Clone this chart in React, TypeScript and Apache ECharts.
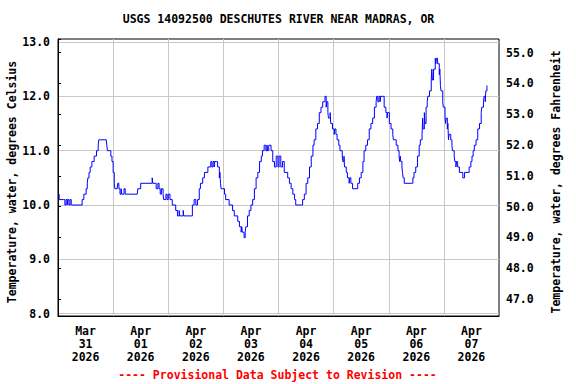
import React, { useEffect, useRef } from "react";
import * as echarts from "echarts";

const TITLE = "USGS 14092500 DESCHUTES RIVER NEAR MADRAS, OR";
const LEFT_NAME = "Temperature, water, degrees Celsius";
const RIGHT_NAME = "Temperature, water, degrees Fahrenheit";
const FOOTER = "---- Provisional Data Subject to Revision ----";

// x axis: hours since 2026-03-31 00:00
const dayLabels = [
  "Mar\n31\n2026",
  "Apr\n01\n2026",
  "Apr\n02\n2026",
  "Apr\n03\n2026",
  "Apr\n04\n2026",
  "Apr\n05\n2026",
  "Apr\n06\n2026",
  "Apr\n07\n2026",
];
const hourRange = [0, 192];
const celsiusRange = [7.958, 13.055];
const fahrenheitRange = [46.45, 55.44];

// [hour since Mar 31 00:00, temperature °C]
const readingsMar31 = [
  [0, 10.2], [0.5, 10.1], [2.5, 10.1], [3, 10.0], [3.5, 10.1], [4, 10.0], [4.25, 10.1], [4.75, 10.0],
  [5.25, 10.1], [5.75, 10.0], [10, 10.0], [10.5, 10.1], [11.25, 10.2], [12.25, 10.3], [12.75, 10.4],
  [13, 10.5], [13.5, 10.6], [14, 10.7], [14.75, 10.8], [15.75, 10.9], [16.75, 11.0], [17.5, 11.1],
  [17.75, 11.2], [21, 11.2], [21.25, 11.1], [21.5, 11.0], [22.5, 11.0], [23, 10.9], [23.5, 10.8],
];
const readingsApr01 = [
  [24, 10.6], [24.5, 10.4], [24.75, 10.3], [25.75, 10.3], [26, 10.4], [26.5, 10.3], [27, 10.2],
  [27.5, 10.3], [27.75, 10.2], [28.75, 10.3], [29.25, 10.2], [34.5, 10.2], [34.75, 10.3], [36, 10.4],
  [40.5, 10.4], [41, 10.5], [41.25, 10.4], [42.25, 10.4], [42.75, 10.3], [43.5, 10.4], [44, 10.3],
  [44.5, 10.2], [45, 10.3], [45.75, 10.2], [46, 10.1], [47, 10.2], [47.5, 10.1],
];
const readingsApr02 = [
  [48, 10.2], [48.75, 10.1], [49.75, 10.0], [51.25, 9.9], [52, 9.8], [52.75, 9.9], [53, 9.8],
  [54.5, 9.9], [54.75, 9.8], [58, 9.8], [58.5, 10.0], [59.25, 10.1], [60, 10.0], [60.75, 10.1],
  [61.5, 10.3], [62, 10.4], [63, 10.5], [63.75, 10.6], [65.25, 10.7], [66.5, 10.8], [67, 10.7],
  [67.5, 10.8], [68, 10.7], [68.25, 10.8], [69, 10.8], [69.5, 10.7], [70.25, 10.5], [70.5, 10.6],
  [70.75, 10.4], [71, 10.3],
];
const readingsApr03 = [
  [72.5, 10.2], [73, 10.1], [74.5, 10.0], [76, 9.9], [76.75, 9.8], [78.25, 9.7], [79, 9.6],
  [79.75, 9.5], [80, 9.6], [80.25, 9.5], [81, 9.4], [81.5, 9.5], [81.75, 9.6], [82.5, 9.8],
  [83.25, 9.9], [84, 10.0], [84.75, 10.1], [85.5, 10.3], [86.25, 10.5], [87, 10.6], [87.75, 10.8],
  [88.5, 10.9], [89, 11.0], [89.75, 11.1], [90.5, 11.0], [91, 11.1], [91.25, 11.0], [91.75, 11.1],
  [92.75, 11.0], [93.5, 10.8], [94.25, 10.7], [95, 10.9], [95.75, 10.7],
];
const readingsApr04 = [
  [96.25, 10.9], [97, 10.7], [97.75, 10.8], [98.5, 10.6], [100, 10.5], [100.75, 10.4], [101.5, 10.3],
  [102.25, 10.2], [103, 10.1], [103.5, 10.0], [106, 10.0], [106.5, 10.1], [107.25, 10.2], [108, 10.4],
  [108.75, 10.5], [109.5, 10.7], [110.25, 10.9], [111, 11.1], [111.5, 11.2], [112.25, 11.4],
  [113, 11.5], [113.75, 11.7], [114.5, 11.8], [115.25, 11.9], [116.25, 12.0], [116.75, 11.8],
  [117, 11.9], [117.5, 11.7], [117.75, 11.6], [118.5, 11.7], [118.75, 11.5], [119.5, 11.4],
];
const readingsApr05 = [
  [120.25, 11.3], [120.5, 11.4], [121, 11.3], [121.5, 11.2], [122.25, 11.1], [122.75, 11.0],
  [123.75, 10.9], [124, 10.8], [124.5, 10.9], [124.75, 10.7], [125.5, 10.6], [126, 10.5],
  [126.75, 10.4], [127, 10.5], [127.5, 10.4], [128.25, 10.3], [129.75, 10.3], [130.5, 10.4],
  [131.25, 10.5], [132, 10.6], [132.75, 10.8], [133.25, 11.0], [134, 11.1], [134.75, 11.2],
  [135.5, 11.4], [136.25, 11.5], [137, 11.6], [137.75, 11.8], [138.5, 11.9], [138.75, 12.0],
  [139.25, 11.9], [139.75, 12.0], [140.25, 11.9], [140.5, 12.0], [141.25, 12.0], [142, 11.8],
  [142.75, 11.7], [143.25, 11.6], [143.5, 11.7],
];
const readingsApr06 = [
  [144.25, 11.5], [145, 11.4], [145.75, 11.3], [146, 11.2], [147.25, 11.1], [148, 11.0], [148.5, 10.9],
  [148.75, 10.8], [149, 10.9], [149.25, 10.8], [149.75, 10.7], [150, 10.6], [150.25, 10.5],
  [150.75, 10.4], [154, 10.4], [154.5, 10.5], [155, 10.6], [155.75, 10.7], [156.5, 10.9],
  [157.25, 11.1], [157.75, 11.2], [158.5, 11.3], [158.75, 11.6], [159, 11.4], [159.5, 11.7],
  [159.75, 11.5], [160.25, 11.8], [160.75, 11.9], [161, 12.0], [161.75, 12.1], [162.5, 12.3],
  [162.75, 12.5], [163, 12.3], [163.5, 12.5], [164.25, 12.7], [164.5, 12.6], [164.75, 12.7],
  [165.25, 12.6], [166, 12.4], [166.25, 12.5], [166.5, 12.2], [166.75, 12.1], [167.5, 11.9],
  [167.75, 11.8],
];
const readingsApr07 = [
  [168.5, 11.6], [168.75, 11.5], [169, 11.6], [169.5, 11.4], [169.75, 11.5], [170, 11.2],
  [170.25, 11.3], [171, 11.2], [171.5, 11.1], [171.75, 11.0], [172.5, 10.9], [172.75, 10.8],
  [173.25, 10.7], [173.5, 10.8], [174, 10.7], [174.75, 10.6], [176.25, 10.5], [177, 10.6],
  [179, 10.7], [179.75, 10.8], [180.25, 10.9], [180.75, 11.0], [181.25, 11.1], [182, 11.2],
  [182.75, 11.4], [183.5, 11.5], [184.25, 11.7], [184.5, 11.8], [185.25, 11.9], [185.5, 12.0],
  [186, 11.9], [186.25, 12.1], [186.75, 12.2],
];

const FONT = "'DejaVu Sans Mono', monospace";
const FS = 11.5;

const isWhole = (v: number) => Math.abs(v - Math.round(v)) < 1e-6;

export default function App() {
  const ref = useRef<HTMLDivElement>(null);

  useEffect(() => {
    if (!ref.current) return;
    const chart = echarts.init(ref.current, undefined, { renderer: "svg" });
    const data = [
      ...readingsMar31,
      ...readingsApr01,
      ...readingsApr02,
      ...readingsApr03,
      ...readingsApr04,
      ...readingsApr05,
      ...readingsApr06,
      ...readingsApr07,
    ];
    const textStyle = (size = FS) => ({
      fontFamily: FONT,
      fontWeight: "bold" as const,
      fontSize: size,
      color: "#000",
    });
    const textFont = `bold ${FS}px ${FONT}`;

    chart.setOption({
      animation: false,
      backgroundColor: "#fff",
      grid: {
        left: 58,
        right: 77,
        top: 39,
        bottom: 68,
        show: true,
        borderColor: "#000",
        borderWidth: 1,
        backgroundColor: "transparent",
      },
      xAxis: [
        {
          type: "value",
          min: hourRange[0],
          max: hourRange[1],
          interval: 24,
          position: "bottom",
          axisLine: { show: true, lineStyle: { color: "#000", width: 1 } },
          axisTick: { show: false },
          axisLabel: { show: false },
          splitLine: {
            show: true,
            showMinLine: false,
            showMaxLine: false,
            lineStyle: { color: "#c8c8c8", width: 1 },
          },
        },
        {
          type: "value",
          min: hourRange[0],
          max: hourRange[1],
          interval: 12,
          position: "bottom",
          axisLine: { show: false },
          axisTick: { show: false },
          splitLine: { show: false },
          axisLabel: {
            ...textStyle(),
            margin: 8,
            lineHeight: 13,
            align: "center",
            formatter: (v: number) => {
              const r = v % 24;
              if (Math.abs(r - 12) < 1e-6) return dayLabels[Math.floor(v / 24)] ?? "";
              return "";
            },
          },
        },
      ],
      yAxis: [
        {
          type: "value",
          position: "left",
          min: celsiusRange[0],
          max: celsiusRange[1],
          minInterval: 1,
          maxInterval: 1,
          axisLine: { show: true, lineStyle: { color: "#000", width: 1 } },
          axisTick: { show: false },
          axisLabel: {
            ...textStyle(),
            margin: 8,
            formatter: (v: number) => (isWhole(v) ? v.toFixed(1) : ""),
          },
          splitLine: {
            show: true,
            showMinLine: false,
            showMaxLine: false,
            lineStyle: { color: "#c8c8c8", width: 1 },
          },
        },
        {
          type: "value",
          position: "right",
          min: fahrenheitRange[0],
          max: fahrenheitRange[1],
          minInterval: 1,
          maxInterval: 1,
          axisLine: { show: true, lineStyle: { color: "#000", width: 1 } },
          axisTick: { show: true, length: 3, lineStyle: { color: "#000" } },
          axisLabel: {
            ...textStyle(),
            margin: 7,
            formatter: (v: number) => (isWhole(v) ? v.toFixed(1) : ""),
          },
          splitLine: { show: false },
        },
      ],
      graphic: [
        {
          type: "text",
          x: 278.5,
          y: 19,
          style: { text: TITLE, font: textFont, fill: "#000", textAlign: "center", textVerticalAlign: "middle" },
        },
        {
          type: "text",
          x: 11.5,
          y: 182,
          rotation: Math.PI / 2,
          style: { text: LEFT_NAME, font: textFont, fill: "#000", textAlign: "center", textVerticalAlign: "middle" },
        },
        {
          type: "text",
          x: 556,
          y: 182,
          rotation: Math.PI / 2,
          style: { text: RIGHT_NAME, font: textFont, fill: "#000", textAlign: "center", textVerticalAlign: "middle" },
        },
        {
          type: "text",
          x: 277.5,
          y: 375,
          style: { text: FOOTER, font: textFont, fill: "#ff0000", textAlign: "center", textVerticalAlign: "middle" },
        },
      ],
      series: [
        {
          type: "line",
          xAxisIndex: 0,
          yAxisIndex: 0,
          data,
          step: "end",
          symbol: "none",
          lineStyle: { color: "#0000ff", width: 1 },
          silent: true,
        },
      ],
    });
    return () => chart.dispose();
  }, []);

  return (
    <div
      ref={ref}
      style={{ position: "fixed", left: 0, top: 0, width: 576, height: 384, background: "#fff" }}
    />
  );
}
